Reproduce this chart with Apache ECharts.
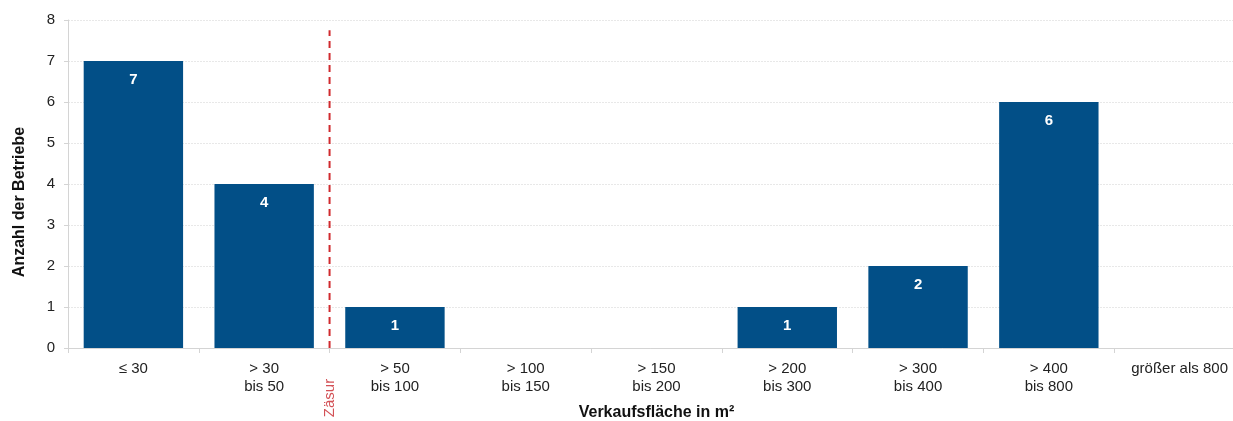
<!DOCTYPE html>
<html>
<head>
<meta charset="utf-8">
<script src="https://cdn.jsdelivr.net/npm/echarts@6/dist/echarts.min.js"></script>
<style>
  html, body { margin: 0; padding: 0; background: #fff; }
  #chart { width: 1233px; height: 421px; }
</style>
</head>
<body>
<div id="chart"></div>
<script>
// Kategorien (Verkaufsfläche) und Anzahl der Betriebe
const categories = ['≤ 30', '> 30\nbis 50', '> 50\nbis 100', '> 100\nbis 150', '> 150\nbis 200',
  '> 200\nbis 300', '> 300\nbis 400', '> 400\nbis 800', 'größer als 800'];
const counts = [7, 4, 1, 0, 0, 1, 2, 6, 0];
// Zäsur zwischen Kategorie 2 und 3
const cutPosition = [2];
const cutTop = [7.75];
const cutLabel = 'Zäsur';

const chart = echarts.init(document.getElementById('chart'));
const font = 'Liberation Sans, Arial, sans-serif';

const option = {
  animation: false,
  textStyle: { fontFamily: font },
  // rechte Kategorie ragt wie im Original über den Rand hinaus
  grid: { left: 68, top: 20, bottom: 73, right: -12, outerBoundsMode: 'none' },
  xAxis: [{
    type: 'category',
    data: categories,
    name: 'Verkaufsfläche in m²',
    nameLocation: 'middle',
    nameGap: 57,
    nameTextStyle: { fontWeight: 'bold', fontSize: 16, color: '#111' },
    axisLine: { lineStyle: { color: '#d4d4d4', width: 1 } },
    axisTick: { show: true, length: 5, lineStyle: { color: '#d4d4d4' } },
    axisLabel: { color: '#222', fontSize: 15, lineHeight: 18, margin: 12 }
  }, {
    type: 'value',
    min: 0,
    max: 9,
    show: false
  }],
  yAxis: {
    type: 'value',
    min: 0,
    max: 8,
    interval: 1,
    name: 'Anzahl der Betriebe',
    nameLocation: 'middle',
    nameGap: 40,
    nameTextStyle: { fontWeight: 'bold', fontSize: 16, color: '#111', padding: [0, 36, 0, 0] },
    axisLine: { show: true, lineStyle: { color: '#d4d4d4' } },
    axisTick: { show: true, length: 4, lineStyle: { color: '#d4d4d4' } },
    axisLabel: { color: '#222', fontSize: 15, margin: 13 },
    splitLine: { lineStyle: { color: '#e8e8e8', type: [2, 1] } }
  },
  series: [{
    type: 'bar',
    data: counts,
    barCategoryGap: '24%',
    itemStyle: { color: '#024f87' },
    label: {
      show: true,
      position: 'insideTop',
      distance: 11,
      color: '#fff',
      fontWeight: 'bold',
      fontSize: 15,
      formatter: p => (p.value > 0 ? p.value : '')
    }
  }, {
    // rote Linie für die Zäsur
    type: 'line',
    xAxisIndex: 1,
    data: [[cutPosition[0], 0], [cutPosition[0], cutTop[0]]],
    symbol: 'none',
    lineStyle: { color: '#d02a2e', width: 2, type: [7, 5] },
    z: 5
  }, {
    type: 'scatter',
    xAxisIndex: 1,
    data: [[cutPosition[0], -1.22]],
    symbolSize: 0,
    clip: false,
    label: {
      show: true,
      formatter: cutLabel,
      rotate: 90,
      position: 'inside',
      color: '#c8262c',
      fontSize: 15
    }
  }]
};

chart.setOption(option);
</script>
</body>
</html>
